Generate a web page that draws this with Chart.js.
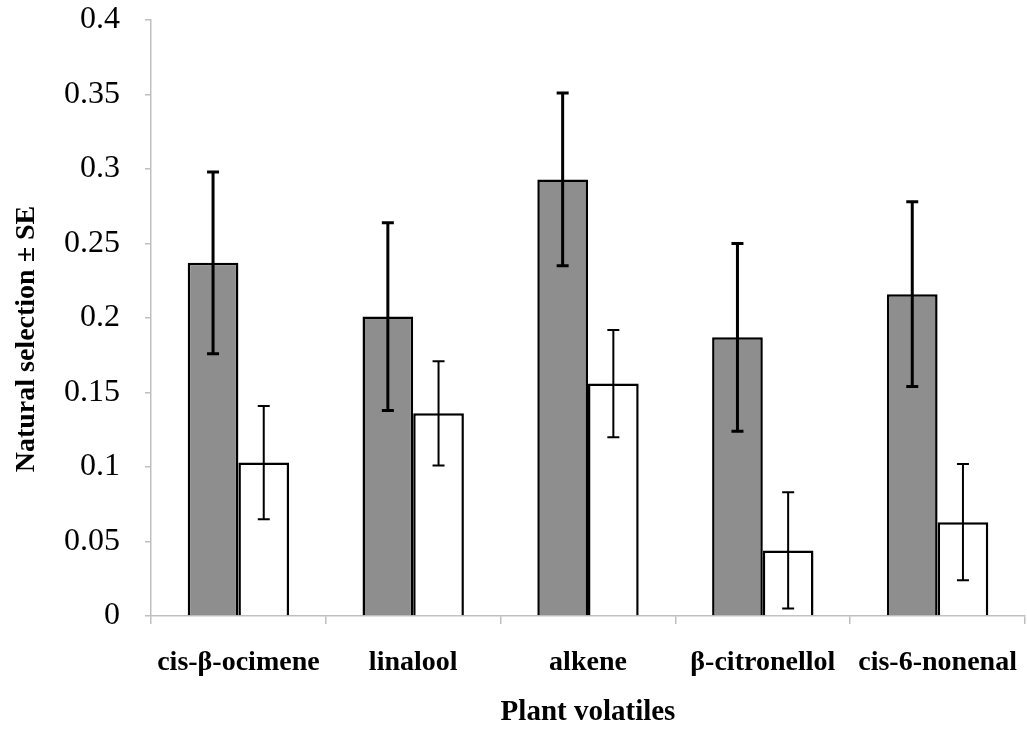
<!DOCTYPE html>
<html>
<head>
<meta charset="utf-8">
<script src="https://cdn.jsdelivr.net/npm/chart.js@4/dist/chart.umd.min.js"></script>
<style>
  body { margin: 0; background: #fff; }
  #wrap { width: 1027px; height: 732px; }
</style>
</head>
<body>
<div id="wrap"><canvas id="barChart" width="1027" height="732"></canvas></div>
<script>
const categories = ['cis-β-ocimene', 'linalool', 'alkene', 'β-citronellol', 'cis-6-nonenal'];
const grayValues = [0.237, 0.201, 0.293, 0.187, 0.216];
const grayErrors = [0.061, 0.063, 0.058, 0.063, 0.062];
const whiteValues = [0.103, 0.136, 0.156, 0.044, 0.063];
const whiteErrors = [0.038, 0.035, 0.036, 0.039, 0.039];

// draws the ± SE whiskers on top of each bar
const errorBars = {
  id: 'errorBars',
  afterDatasetsDraw(chart) {
    const ctx = chart.ctx;
    const yScale = chart.scales.y;
    chart.data.datasets.forEach((ds, i) => {
      const meta = chart.getDatasetMeta(i);
      meta.data.forEach((bar, j) => {
        const v = ds.data[j];
        const e = ds.errors[j];
        const top = yScale.getPixelForValue(v + e);
        const bottom = yScale.getPixelForValue(v - e);
        const x = bar.x;
        ctx.save();
        ctx.strokeStyle = '#000';
        ctx.lineWidth = ds.errorWidth;
        ctx.beginPath();
        ctx.moveTo(x, top);
        ctx.lineTo(x, bottom);
        ctx.moveTo(x - 6, top);
        ctx.lineTo(x + 6, top);
        ctx.moveTo(x - 6, bottom);
        ctx.lineTo(x + 6, bottom);
        ctx.stroke();
        ctx.restore();
      });
    });
  }
};

const ctx = document.getElementById('barChart').getContext('2d');
new Chart(ctx, {
  type: 'bar',
  data: {
    labels: categories,
    datasets: [{
      data: grayValues,
      errors: grayErrors,
      errorWidth: 3,
      backgroundColor: '#8e8e8e',
      borderColor: '#000',
      borderWidth: 2.5,
      categoryPercentage: 0.58,
      barPercentage: 1.0
    }, {
      data: whiteValues,
      errors: whiteErrors,
      errorWidth: 2,
      backgroundColor: '#fff',
      borderColor: '#000',
      borderWidth: 2.5,
      categoryPercentage: 0.58,
      barPercentage: 1.0
    }]
  },
  options: {
    responsive: false,
    animation: false,
    layout: { padding: { top: 0, right: 2, left: 0, bottom: 0 } },
    plugins: {
      legend: { display: false },
      tooltip: { enabled: false }
    },
    scales: {
      x: {
        afterFit: (s) => {
          s.height = 116;
          s.paddingLeft = 0;
          s.paddingRight = 0;
        },
        grid: { drawOnChartArea: false, tickLength: 8, color: '#bfbfbf', lineWidth: 1.5 },
        border: { color: '#bfbfbf', width: 1.5 },
        ticks: {
          color: '#000',
          padding: 22,
          maxRotation: 0,
          minRotation: 0,
          autoSkip: false,
          font: { family: 'Liberation Serif', weight: 'bold', size: 28 }
        },
        title: {
          display: true,
          text: 'Plant volatiles',
          color: '#000',
          padding: { top: 0, bottom: 2 },
          font: { family: 'Liberation Serif', weight: 'bold', size: 29 }
        }
      },
      y: {
        min: 0,
        max: 0.4,
        afterFit: (s) => {
          s.width = 151;
          s.paddingTop = 20;
          s.paddingBottom = 0;
        },
        grid: { drawOnChartArea: false, tickLength: 6, color: '#bfbfbf', lineWidth: 1.5 },
        border: { color: '#bfbfbf', width: 1.5 },
        ticks: {
          stepSize: 0.05,
          color: '#000',
          padding: 25,
          font: { family: 'Liberation Serif', size: 32 },
          callback: (v) => String(parseFloat(Number(v).toFixed(2)))
        },
        title: {
          display: true,
          text: 'Natural selection ± SE\u00a0\u00a0\u00a0\u00a0\u00a0\u00a0',
          color: '#000',
          padding: { top: 10, bottom: 0 },
          font: { family: 'Liberation Serif', weight: 'bold', size: 28 }
        }
      }
    }
  },
  plugins: [errorBars]
});
</script>
</body>
</html>
